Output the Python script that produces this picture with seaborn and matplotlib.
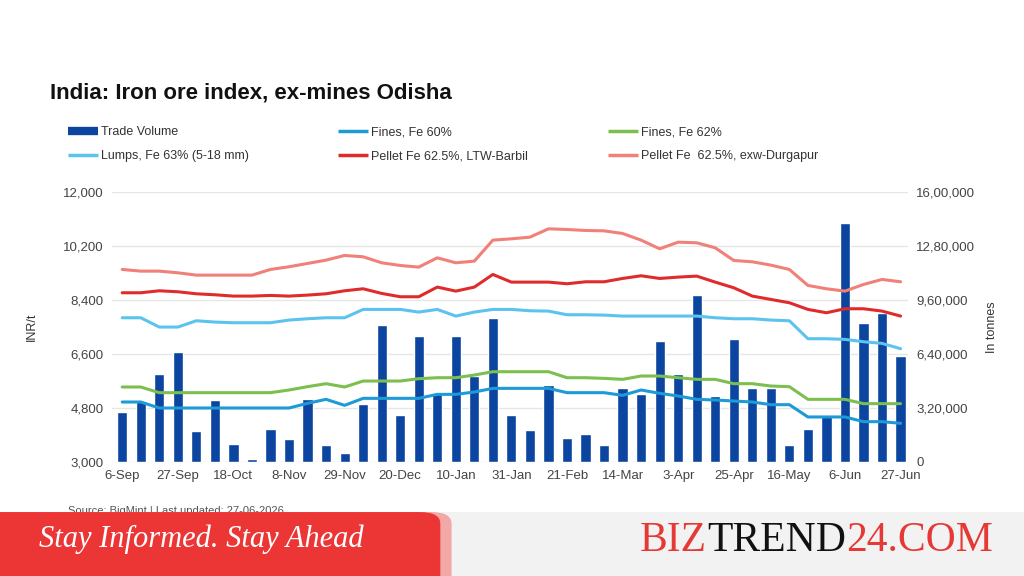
import matplotlib
matplotlib.use("Agg")
import matplotlib.pyplot as plt
import seaborn as sns
import pandas as pd
from matplotlib.patches import Rectangle, FancyBboxPatch
from matplotlib.lines import Line2D

# ---------------- data ----------------
tick_labels = ["6-Sep", "27-Sep", "18-Oct", "8-Nov", "29-Nov", "20-Dec", "10-Jan",
               "31-Jan", "21-Feb", "14-Mar", "3-Apr", "25-Apr", "16-May", "6-Jun", "27-Jun"]

trade_volume = [296000, 363000, 523000, 649000, 185000, 365000, 105000, 20000, 197000, 138000,
                373000, 99000, 55000, 345000, 809000, 278000, 748000, 410000, 748000, 509000,
                850000, 278000, 189000, 458000, 142000, 166000, 99000, 440000, 400000, 714000,
                523000, 990000, 389000, 728000, 436000, 436000, 103000, 197000, 278000, 1417000,
                825000, 884000, 627000]

fines_60 = [4998, 4998, 4798, 4798, 4798, 4798, 4798, 4798, 4798, 4798,
            4954, 5087, 4887, 5120, 5120, 5120, 5120, 5253, 5253, 5331,
            5453, 5453, 5453, 5453, 5309, 5309, 5309, 5220, 5398, 5287,
            5198, 5087, 5065, 5031, 4998, 4909, 4909, 4499, 4499, 4499,
            4343, 4343, 4288]

fines_62 = [5498, 5498, 5309, 5309, 5309, 5309, 5309, 5309, 5309, 5398,
            5509, 5609, 5498, 5697, 5697, 5697, 5775, 5808, 5808, 5897,
            6008, 6008, 6008, 6008, 5808, 5808, 5786, 5753, 5864, 5864,
            5808, 5753, 5753, 5609, 5609, 5531, 5509, 5087, 5087, 5087,
            4943, 4943, 4943]

lumps_63 = [7806, 7806, 7496, 7496, 7706, 7662, 7640, 7640, 7640, 7729,
            7773, 7806, 7806, 8084, 8084, 8084, 7995, 8084, 7862, 7995,
            8084, 8084, 8039, 8028, 7906, 7906, 7895, 7862, 7862, 7862,
            7862, 7862, 7806, 7773, 7773, 7729, 7706, 7107, 7107, 7085,
            7007, 6952, 6774]

pellet_barbil = [8639, 8639, 8705, 8672, 8605, 8572, 8528, 8528, 8550, 8528,
                 8561, 8605, 8705, 8772, 8617, 8506, 8506, 8828, 8694, 8828,
                 9249, 8994, 8994, 8994, 8939, 9005, 9005, 9116, 9205, 9116,
                 9161, 9194, 8994, 8805, 8528, 8417, 8306, 8084, 7973, 8106,
                 8106, 8028, 7862]

pellet_durgapur = [9416, 9360, 9360, 9305, 9227, 9227, 9227, 9227, 9416, 9505,
                   9616, 9727, 9882, 9838, 9638, 9549, 9494, 9804, 9638, 9693,
                   10393, 10437, 10493, 10770, 10748, 10715, 10703, 10615, 10393, 10104,
                   10326, 10304, 10137, 9716, 9671, 9560, 9416, 8883, 8772, 8694,
                   8916, 9083, 9005]

left_ticks = [3000, 4800, 6600, 8400, 10200, 12000]
left_tick_labels = ["3,000", "4,800", "6,600", "8,400", "10,200", "12,000"]
right_ticks = [0, 320000, 640000, 960000, 1280000, 1600000]
right_tick_labels = ["0", "3,20,000", "6,40,000", "9,60,000", "12,80,000", "16,00,000"]

series_names = ["Fines, Fe 60%", "Fines, Fe 62%", "Lumps, Fe 63% (5-18 mm)",
                "Pellet Fe 62.5%, LTW-Barbil", "Pellet Fe  62.5%, exw-Durgapur"]
series_values = [fines_60, fines_62, lumps_63, pellet_barbil, pellet_durgapur]
series_colors = ["#1e9ad6", "#7cbf4f", "#5cc3ef", "#e02b2b", "#f08078"]
bar_color = "#0b45a0"

week = list(range(len(trade_volume)))
df_bar = pd.DataFrame({"week": week, "volume": trade_volume})
df_lines = pd.concat([pd.DataFrame({"week": week, "value": v, "series": n})
                      for n, v in zip(series_names, series_values)], ignore_index=True)

# ---------------- figure ----------------
sns.set_theme(style="white")
plt.rcParams["font.family"] = ["Liberation Sans", "DejaVu Sans"]

fig = plt.figure(figsize=(10.24, 5.76), dpi=100)
fig.patch.set_facecolor("white")

ax = fig.add_axes([0.1094, 0.198, 0.7773, 0.4688])
axb = ax.twinx()

# bars on the secondary (right) axis, drawn below
sns.barplot(data=df_bar, x="week", y="volume", ax=axb, color=bar_color,
            width=0.55, saturation=1)
axb.set_ylim(0, 1600000)
axb.set_yticks(right_ticks)
axb.set_yticklabels(right_tick_labels)
axb.grid(axis="y", color="#e6e6e6", linewidth=1)
axb.set_axisbelow(True)
axb.set_ylabel("In tonnes", fontsize=9, color="#333333", labelpad=8)
axb.set_xlabel("")

# lines on primary (left) axis, drawn on top
ax.set_zorder(axb.get_zorder() + 1)
ax.patch.set_visible(False)
sns.lineplot(data=df_lines, x="week", y="value", hue="series", hue_order=series_names,
             palette=series_colors, ax=ax, linewidth=2.2, legend=False)
ax.set_ylim(3000, 12000)
ax.set_yticks(left_ticks)
ax.set_yticklabels(left_tick_labels)
ax.set_ylabel("INR/t", fontsize=9, color="#333333", labelpad=18)
ax.set_xlabel("")
ax.set_xlim(-0.55, 42.4)
ax.set_xticks(week[::3])
ax.set_xticklabels(tick_labels)
axb.set_xlim(-0.55, 42.4)

for a in (ax, axb):
    for s in a.spines.values():
        s.set_visible(False)
    a.tick_params(axis="both", length=0, labelsize=9.5, colors="#444444", pad=6)

# ---------------- title & legend ----------------
fig.text(0.049, 0.838, "India: Iron ore index, ex-mines Odisha", fontsize=16,
         fontweight="bold", color="#111111", va="center", ha="left")

def h(color, lw=2.5):
    return Line2D([0], [0], color=color, lw=lw, solid_capstyle="butt")

legend_cols = [
    ([h(bar_color, 6), h(series_colors[2])], ["Trade Volume", series_names[2]], 0.066),
    ([h(series_colors[0]), h(series_colors[3])], [series_names[0], series_names[3]], 0.330),
    ([h(series_colors[1]), h(series_colors[4])], [series_names[1], series_names[4]], 0.594),
]
for hs, ls, x0 in legend_cols:
    leg = fig.legend(hs, ls, loc="upper left", bbox_to_anchor=(x0, 0.781),
                     frameon=False, fontsize=9, handlelength=2.4, handletextpad=0.25,
                     labelspacing=0.95, borderaxespad=0, borderpad=0,
                     labelcolor="#333333")

# ---------------- footer ----------------
fig.text(0.066, 0.108, "Source: BigMint | Last updated: 27-06-2026", fontsize=8,
         color="#555555", zorder=1, va="baseline")
fig.patches.append(Rectangle((0, 0), 1, 0.111, transform=fig.transFigure,
                             facecolor="#f2f2f2", edgecolor="none", zorder=2))
fig.patches.append(FancyBboxPatch((-0.05, -0.05), 0.491, 0.161, transform=fig.transFigure,
                                  boxstyle="round,pad=0,rounding_size=0.02",
                                  facecolor="#f2a8a4", edgecolor="none", zorder=3))
fig.patches.append(FancyBboxPatch((-0.05, -0.05), 0.48, 0.161, transform=fig.transFigure,
                                  boxstyle="round,pad=0,rounding_size=0.02",
                                  facecolor="#ec3535", edgecolor="none", zorder=4))
fig.text(0.038, 0.064, "Stay Informed. Stay Ahead", fontsize=22, fontstyle="italic",
         family=["Liberation Serif", "DejaVu Serif"], color="white", va="center",
         ha="left", zorder=5)

parts = [("BIZ", "#e53935"), ("TREND", "#111111"), ("24.COM", "#e53935")]
fig.canvas.draw()
renderer = fig.canvas.get_renderer()
x_frac = 0.625
for txt, col in parts:
    tt = fig.text(x_frac, 0.062, txt, fontsize=30,
                  family=["Liberation Serif", "DejaVu Serif"], color=col,
                  va="center", ha="left", zorder=5)
    x_frac = tt.get_window_extent(renderer).x1 / fig.bbox.width

fig.savefig("out.png", dpi=100, facecolor="white")
